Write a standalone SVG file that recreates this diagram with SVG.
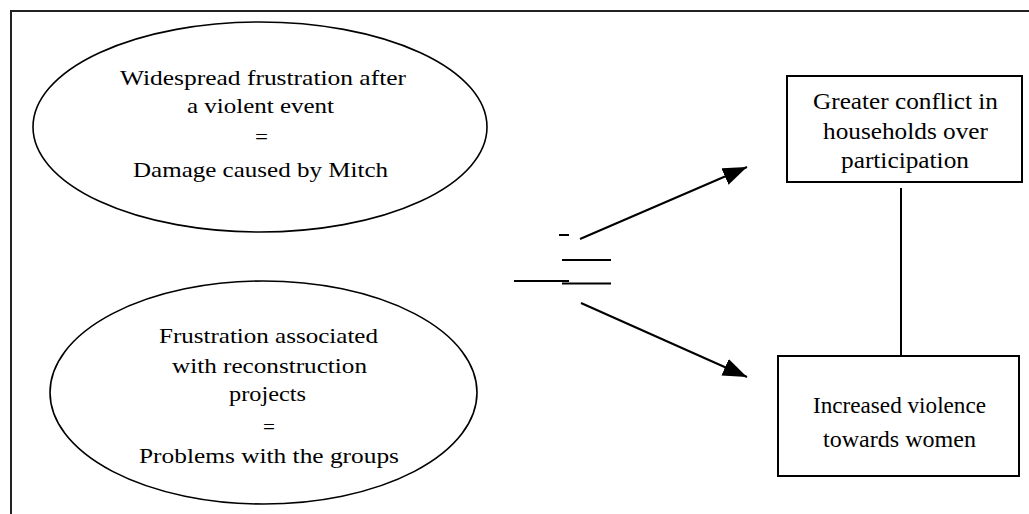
<svg xmlns="http://www.w3.org/2000/svg" width="1029" height="514" viewBox="0 0 1029 514">
<style>
.frame{stroke:#222;stroke-width:2;fill:none}
.ell{fill:#fff;stroke:#000;stroke-width:1.6}
.box{fill:#fff;stroke:#000;stroke-width:2}
.ln{stroke:#000;stroke-width:2;fill:none}
.t{font-family:"Liberation Serif","Times New Roman",serif;fill:#000;text-anchor:start}
.te{font-size:21px}
.tb{font-size:23px}
</style>
<defs>
<marker id="ah" markerUnits="userSpaceOnUse" markerWidth="26" markerHeight="20" refX="24" refY="9" orient="auto">
<path d="M0,0 L24,9 L0,18 Z" fill="#000"/>
</marker>
</defs>
<g id="frame">
<line class="frame" x1="10" y1="11" x2="1029" y2="11"/>
<line class="frame" x1="11" y1="10" x2="11" y2="514"/>
</g>
<g id="node-damage">
<ellipse class="ell" cx="260" cy="127" rx="227" ry="105"/>
<text class="t te" x="120" y="85" textLength="286" lengthAdjust="spacingAndGlyphs">Widespread frustration after</text>
<text class="t te" x="187" y="113" textLength="147" lengthAdjust="spacingAndGlyphs">a violent event</text>
<text class="t te" x="255" y="144" textLength="13" lengthAdjust="spacingAndGlyphs">=</text>
<text class="t te" x="133" y="177" textLength="255" lengthAdjust="spacingAndGlyphs">Damage caused by Mitch</text>
</g>
<g id="node-groups">
<ellipse class="ell" cx="263.5" cy="392.5" rx="213.5" ry="111.5"/>
<text class="t te" x="159" y="343" textLength="219" lengthAdjust="spacingAndGlyphs">Frustration associated</text>
<text class="t te" x="172" y="373" textLength="195" lengthAdjust="spacingAndGlyphs">with reconstruction</text>
<text class="t te" x="229" y="401" textLength="77" lengthAdjust="spacingAndGlyphs">projects</text>
<text class="t te" x="263" y="434" textLength="12" lengthAdjust="spacingAndGlyphs">=</text>
<text class="t te" x="139" y="463" textLength="260" lengthAdjust="spacingAndGlyphs">Problems with the groups</text>
</g>
<g id="node-conflict">
<rect class="box" x="787" y="76" width="235" height="106"/>
<text class="t tb" x="813" y="109" textLength="185" lengthAdjust="spacingAndGlyphs">Greater conflict in</text>
<text class="t tb" x="823" y="139" textLength="165" lengthAdjust="spacingAndGlyphs">households over</text>
<text class="t tb" x="841" y="168" textLength="128" lengthAdjust="spacingAndGlyphs">participation</text>
</g>
<g id="node-violence">
<rect class="box" x="778" y="356" width="241" height="120"/>
<text class="t tb" x="813" y="413" textLength="173" lengthAdjust="spacingAndGlyphs">Increased violence</text>
<text class="t tb" x="823" y="447" textLength="153" lengthAdjust="spacingAndGlyphs">towards women</text>
</g>
<g id="connectors">
<line class="ln" x1="580" y1="239" x2="747" y2="167" marker-end="url(#ah)"/>
<line class="ln" x1="581" y1="303" x2="747" y2="377" marker-end="url(#ah)"/>
<line class="ln" x1="901" y1="188" x2="901" y2="356"/>
<line class="ln" x1="559" y1="235" x2="569" y2="235"/>
<line class="ln" x1="562" y1="260" x2="611" y2="260"/>
<line class="ln" x1="514" y1="281" x2="569" y2="281"/>
<line class="ln" x1="562" y1="283.5" x2="611" y2="283.5"/>
</g>
</svg>
